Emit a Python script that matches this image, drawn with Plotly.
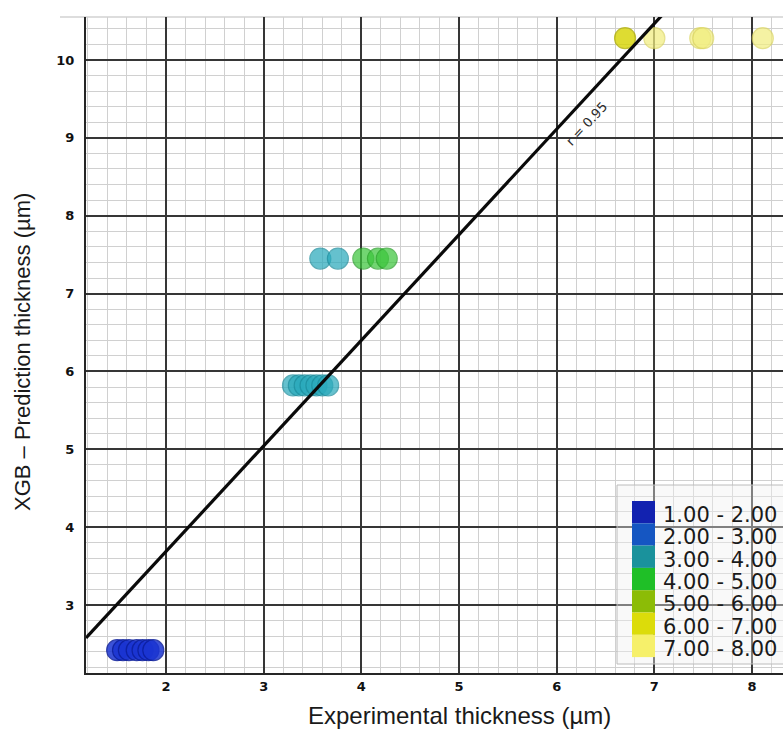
import plotly.graph_objects as go

# ---------------- data ----------------
experimental = [1.50, 1.56, 1.62, 1.70, 1.76, 1.82, 1.87,
                3.30, 3.36, 3.42, 3.48, 3.54, 3.60, 3.66,
                3.58, 3.76, 4.02, 4.17, 4.26,
                6.70, 7.00, 7.47, 7.50, 8.11]
predicted = [2.42, 2.42, 2.42, 2.42, 2.42, 2.42, 2.42,
             5.82, 5.82, 5.82, 5.82, 5.82, 5.82, 5.82,
             7.45, 7.45, 7.45, 7.45, 7.45,
             10.28, 10.28, 10.28, 10.28, 10.28]

range_labels = ["1.00 - 2.00", "2.00 - 3.00", "3.00 - 4.00", "4.00 - 5.00",
                "5.00 - 6.00", "6.00 - 7.00", "7.00 - 8.00"]
range_lows = [1, 2, 3, 4, 5, 6, 7]
range_colors = ["#1222b0", "#1556c2", "#1a929c", "#1fbf27",
                "#8cbc06", "#dcdc0a", "#f6f06a"]
marker_colors = ["#1a34d2", "#1a62d0", "#2aaabc", "#3cc63c",
                 "#90c010", "#d6d400", "#f2ee80"]
marker_lines = ["#0c1e9c", "#1040a8", "#1a8c9c", "#28a028",
                "#6c9a08", "#b0ae00", "#dcd660"]
marker_alpha = [0.85, 0.8, 0.72, 0.72, 0.72, 0.8, 0.72]

fit_slope = 1.356
fit_intercept = 0.976
r_label = "r = 0.95"

x_range = [1.181, 8.317]
y_range = [2.127, 10.552]

# ---------------- figure ----------------
W, H = 783, 738
L, R, T, B = 86, 0, 17, 65
PW, PH = W - L - R, H - T - B


def px(xp):
    return (xp - L) / PW


def py(yp):
    return (H - B - yp) / PH


def bin_index(x):
    idx = 0
    for i, lo in enumerate(range_lows):
        if x >= lo:
            idx = i
    return idx


fig = go.Figure()

for i in range(len(range_lows)):
    xs = [x for x in experimental if bin_index(x) == i]
    ys = [y for x, y in zip(experimental, predicted) if bin_index(x) == i]
    if not xs:
        continue
    fig.add_trace(go.Scatter(
        x=xs, y=ys, mode="markers", name=range_labels[i],
        marker=dict(size=21, color=marker_colors[i], opacity=marker_alpha[i],
                    line=dict(color=marker_lines[i], width=1.2)),
        showlegend=False, cliponaxis=False))

line_x = [x_range[0], x_range[1]]
line_y = [fit_slope * x + fit_intercept for x in line_x]
fig.add_trace(go.Scatter(x=line_x, y=line_y, mode="lines",
                         line=dict(color="#0a0a0a", width=3.2),
                         showlegend=False))

axis_common = dict(
    showgrid=True, gridcolor="#363636", gridwidth=1.5,
    minor=dict(dtick=0.2, showgrid=True, gridcolor="#d0d0d0", gridwidth=1.2),
    dtick=1, tick0=0, zeroline=False,
    showline=True, linecolor="#262626", linewidth=2,
    ticks="", tickfont=dict(family="DejaVu Sans", size=13, color="#111111",
                            weight=600),
)

fig.update_layout(
    width=W, height=H,
    margin=dict(l=L, r=R, t=T, b=B),
    paper_bgcolor="white", plot_bgcolor="white",
    xaxis=dict(range=x_range, **axis_common),
    yaxis=dict(range=y_range, ticklabelstandoff=7, **axis_common),
    showlegend=False,
)

shapes = []
# light frame line along the top
shapes.append(dict(type="line", xref="paper", yref="paper",
                   x0=px(60), x1=1.05, y0=1, y1=1,
                   line=dict(color="#d2d2d2", width=1.5), layer="below"))
# legend box
shapes.append(dict(type="rect", xref="paper", yref="paper",
                   x0=px(617), x1=px(805), y0=py(664), y1=py(485),
                   fillcolor="rgba(240,240,240,0.4)",
                   line=dict(color="#bcbcbc", width=1)))
sw_top, sw_h = 501, 22.3
annotations = []
for i, (lab, col) in enumerate(zip(range_labels, range_colors)):
    y0 = sw_top + i * sw_h
    shapes.append(dict(type="rect", xref="paper", yref="paper",
                       x0=px(632), x1=px(655), y0=py(y0 + sw_h), y1=py(y0),
                       fillcolor=col, line=dict(width=0)))
    annotations.append(dict(x=px(661), y=py(y0 + sw_h / 2 + 3), xref="paper", yref="paper",
                            text=lab, showarrow=False, xanchor="left", yanchor="middle",
                            font=dict(family="DejaVu Sans", size=21, color="#1a1a1a")))

annotations.append(dict(x=6.31, y=9.18, xref="x", yref="y", text=r_label,
                        showarrow=False, textangle=-47,
                        font=dict(family="DejaVu Sans", size=13, color="#2a2a2a")))
annotations.append(dict(x=px(459), y=py(715), xref="paper", yref="paper",
                        text="Experimental thickness (µm)", showarrow=False,
                        xanchor="center", yanchor="middle",
                        font=dict(family="Liberation Sans", size=24, color="#1a1a1a")))
annotations.append(dict(x=px(22), y=py(352), xref="paper", yref="paper",
                        text="XGB – Prediction thickness (µm)", showarrow=False,
                        textangle=-90, xanchor="center", yanchor="middle",
                        font=dict(family="Liberation Sans", size=22, color="#1a1a1a")))

fig.update_layout(shapes=shapes, annotations=annotations)

fig.write_html("out.html")
